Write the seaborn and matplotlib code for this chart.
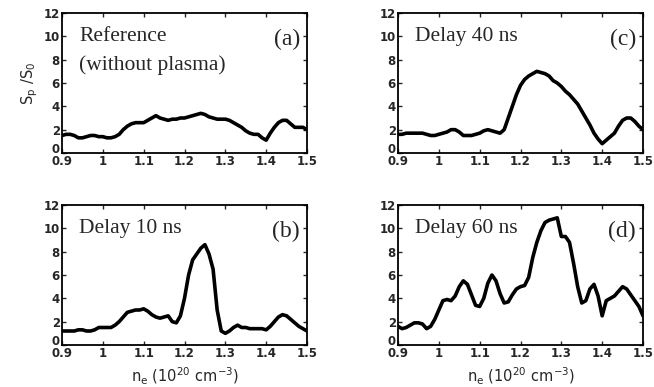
import numpy as np
import pandas as pd
import matplotlib
matplotlib.use("Agg")
import matplotlib.pyplot as plt
import matplotlib.transforms as mtransforms
import seaborn as sns

ne = [0.90, 0.91, 0.92, 0.93, 0.94, 0.95, 0.96, 0.97, 0.98, 0.99,
      1.00, 1.01, 1.02, 1.03, 1.04, 1.05, 1.06, 1.07, 1.08, 1.09,
      1.10, 1.11, 1.12, 1.13, 1.14, 1.15, 1.16, 1.17, 1.18, 1.19,
      1.20, 1.21, 1.22, 1.23, 1.24, 1.25, 1.26, 1.27, 1.28, 1.29,
      1.30, 1.31, 1.32, 1.33, 1.34, 1.35, 1.36, 1.37, 1.38, 1.39,
      1.40, 1.41, 1.42, 1.43, 1.44, 1.45, 1.46, 1.47, 1.48, 1.49, 1.50]

ref_a = [1.5, 1.6, 1.6, 1.5, 1.3, 1.3, 1.4, 1.5, 1.5, 1.4,
         1.4, 1.3, 1.3, 1.4, 1.6, 2.0, 2.3, 2.5, 2.6, 2.6,
         2.6, 2.8, 3.0, 3.2, 3.0, 2.9, 2.8, 2.9, 2.9, 3.0,
         3.0, 3.1, 3.2, 3.3, 3.4, 3.3, 3.1, 3.0, 2.9, 2.9,
         2.9, 2.8, 2.6, 2.4, 2.2, 1.9, 1.7, 1.6, 1.6, 1.3,
         1.1, 1.7, 2.2, 2.6, 2.8, 2.8, 2.5, 2.2, 2.2, 2.2, 2.0]

delay10_b = [1.2, 1.2, 1.2, 1.2, 1.3, 1.3, 1.2, 1.2, 1.3, 1.5,
             1.5, 1.5, 1.5, 1.7, 2.0, 2.4, 2.8, 2.9, 3.0, 3.0,
             3.1, 2.9, 2.6, 2.4, 2.3, 2.4, 2.5, 2.0, 1.9, 2.5,
             4.0, 6.0, 7.3, 7.8, 8.3, 8.6, 7.8, 6.5, 3.0, 1.2,
             1.0, 1.2, 1.5, 1.7, 1.5, 1.5, 1.4, 1.4, 1.4, 1.4,
             1.3, 1.6, 2.0, 2.4, 2.6, 2.5, 2.2, 1.9, 1.6, 1.4, 1.2]

delay40_c = [1.6, 1.6, 1.7, 1.7, 1.7, 1.7, 1.7, 1.6, 1.5, 1.5,
             1.6, 1.7, 1.8, 2.0, 2.0, 1.8, 1.5, 1.5, 1.5, 1.6,
             1.7, 1.9, 2.0, 1.9, 1.8, 1.7, 2.0, 3.0, 4.0, 5.0,
             5.8, 6.3, 6.6, 6.8, 7.0, 6.9, 6.8, 6.6, 6.2, 6.0,
             5.7, 5.3, 5.0, 4.6, 4.2, 3.6, 3.0, 2.4, 1.7, 1.2,
             0.8, 1.1, 1.4, 1.7, 2.3, 2.8, 3.0, 3.0, 2.7, 2.3, 2.0]

delay60_d = [1.6, 1.4, 1.5, 1.7, 1.9, 1.9, 1.8, 1.4, 1.6, 2.2,
             3.0, 3.8, 3.9, 3.8, 4.2, 5.0, 5.5, 5.2, 4.3, 3.4,
             3.3, 4.0, 5.3, 6.0, 5.5, 4.4, 3.6, 3.7, 4.3, 4.8,
             5.0, 5.1, 5.8, 7.5, 8.8, 9.8, 10.5, 10.7, 10.8, 10.9,
             9.3, 9.3, 8.8, 7.0, 5.0, 3.6, 3.8, 4.8, 5.2, 4.2,
             2.5, 3.8, 4.0, 4.2, 4.6, 5.0, 4.8, 4.3, 3.8, 3.3, 2.5]

panels = [
    (["Reference", "(without plasma)"], "(a)", ref_a),
    (["Delay 40 ns"], "(c)", delay40_c),
    (["Delay 10 ns"], "(b)", delay10_b),
    (["Delay 60 ns"], "(d)", delay60_d),
]

x_ticks = [0.9, 1.0, 1.1, 1.2, 1.3, 1.4, 1.5]
x_tick_labels = ["0.9", "1", "1.1", "1.2", "1.3", "1.4", "1.5"]
y_ticks = [0, 2, 4, 6, 8, 10, 12]

sns.set_style("ticks")
plt.rcParams["font.family"] = ["DejaVu Sans"]
plt.rcParams["mathtext.fontset"] = "dejavusans"

fig = plt.figure(figsize=(6.54, 3.87), dpi=100)

W, H = 654.0, 387.0
lefts = [62, 398]
tops = [13, 205]
aw, ah = 245, 140

positions = [(lefts[0], tops[0]), (lefts[1], tops[0]), (lefts[0], tops[1]), (lefts[1], tops[1])]

for i, ((lines, tag, vals), (lx, ty)) in enumerate(zip(panels, positions)):
    ax = fig.add_axes([lx / W, 1 - (ty + ah) / H, aw / W, ah / H])
    df = pd.DataFrame({"ne": ne, "S": vals})
    sns.lineplot(data=df, x="ne", y="S", ax=ax, color="black", linewidth=2.6)
    ax.set_xlim(0.9, 1.5)
    ax.set_ylim(0, 12)
    ax.set_xticks(x_ticks)
    ax.set_xticklabels(x_tick_labels)
    ax.set_yticks(y_ticks)
    ax.tick_params(direction="in", length=3, width=1, top=True, right=True,
                   labelsize=8.5, pad=1.5)
    for t in ax.get_xticklabels() + ax.get_yticklabels():
        t.set_fontweight("bold")
    # lift the "0" label slightly so it sits just above "0.9"
    zero_lab = ax.get_yticklabels()[0]
    zero_lab.set_transform(zero_lab.get_transform() +
                           mtransforms.ScaledTranslation(0, 3.5 / 72, fig.dpi_scale_trans))
    for s in ax.spines.values():
        s.set_linewidth(1.3)
        s.set_color("black")
    ax.set_xlabel("")
    ax.set_ylabel("")
    ys = [10.0, 7.5]
    for k, line in enumerate(lines):
        ax.text(0.942, ys[k], line, family="Liberation Serif",
                fontsize=15.5, ha="left", va="center")
    ax.text(1.483, 9.75, tag, family="Liberation Serif", fontsize=17,
            ha="right", va="center")
    if i == 0:
        ax.set_ylabel(r"$\mathregular{S_p\ /S_0}$", fontsize=10.5, labelpad=3)
    if i >= 2:
        ax.set_xlabel(r"$\mathregular{n_e\ (10^{20}\ cm^{-3})}$", fontsize=10.5, labelpad=4)

fig.savefig("out.png", dpi=100)
